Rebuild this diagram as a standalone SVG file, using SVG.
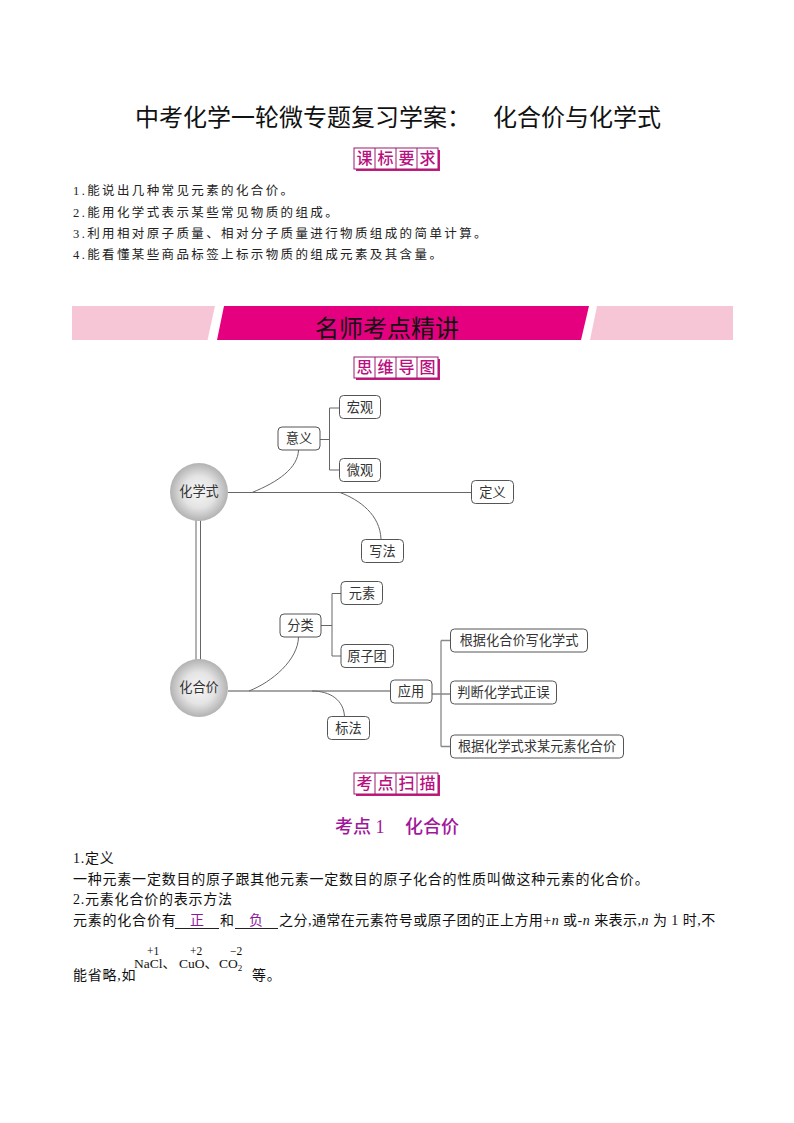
<svg xmlns="http://www.w3.org/2000/svg" width="794" height="1123" viewBox="0 0 794 1123">
<defs>
<radialGradient id="ball" cx="50%" cy="50%" r="50%"><stop offset="0" stop-color="#f6f6f6"/><stop offset="0.55" stop-color="#e4e4e4"/><stop offset="1" stop-color="#b2b2b2"/></radialGradient>
<g id="badge"><rect x="2" y="2" width="84" height="21" fill="#c9187f"/><rect x="0" y="0" width="84" height="21" fill="#fff" stroke="#9a1a6c" stroke-width="1"/><path d="M21 0V21M42 0V21M63 0V21" stroke="#9a1a6c" stroke-width="1" fill="none"/></g>
</defs>
<style>
text{font-family:"Noto Sans CJK SC","Liberation Sans",sans-serif;fill:#111}
.title{font-size:24px}
.req{font-family:"Liberation Serif","Noto Sans CJK SC",serif;font-size:12.5px;letter-spacing:2.38px;fill:#222}
.body{font-family:"Liberation Serif","Noto Sans CJK SC",serif;font-size:14px;letter-spacing:.78px}
.bt{font-size:16px;fill:#b8107f;text-anchor:middle;font-weight:500}
.box{fill:#fff;stroke:#555;stroke-width:1}
.lab{font-size:13.200px;text-anchor:middle;fill:#333}
.ball{fill:url(#ball)}
.con{fill:none;stroke:#666;stroke-width:1}
.thick{fill:none;stroke:#888;stroke-width:1.3}
.f{font-family:"Liberation Serif","Noto Sans CJK SC",serif;font-size:13.500px}
.c{font-family:"Liberation Serif",serif;font-size:11.500px}
.ans{font-size:14px;fill:#8a1a9a;text-anchor:middle}
.sec{font-family:"Liberation Serif","Noto Sans CJK SC",serif;font-size:18px;font-weight:500}
</style>
<rect width="794" height="1123" fill="#fff"/>
<text class="title" x="135" y="126">中考化学一轮微专题复习学案：</text>
<text class="title" x="493" y="126">化合价与化学式</text>
<g id="badge-kebiao"><use href="#badge" x="354" y="148"/>
<text class="bt" x="364.500" y="164">课</text><text class="bt" x="385.500" y="164">标</text><text class="bt" x="406.500" y="164">要</text><text class="bt" x="427.500" y="164">求</text></g>
<text class="req" x="73" y="195">1.能说出几种常见元素的化合价。</text>
<text class="req" x="73" y="217">2.能用化学式表示某些常见物质的组成。</text>
<text class="req" x="73" y="238">3.利用相对原子质量、相对分子质量进行物质组成的简单计算。</text>
<text class="req" x="73" y="259">4.能看懂某些商品标签上标示物质的组成元素及其含量。</text>
<g id="banner">
<polygon points="72,306 215,306 207.500,340 72,340" fill="#f7c6d6"/>
<polygon points="224,306 589,306 581,340 217,340" fill="#e5007f"/>
<polygon points="597,306 733,306 733,340 590,340" fill="#f7c6d6"/>
<text x="387" y="337" font-size="24" text-anchor="middle">名师考点精讲</text>
</g>
<g id="badge-siwei"><use href="#badge" x="354" y="357"/>
<text class="bt" x="364.500" y="373">思</text><text class="bt" x="385.500" y="373">维</text><text class="bt" x="406.500" y="373">导</text><text class="bt" x="427.500" y="373">图</text></g>
<g id="connectors">
<path class="con" d="M228 492.500H471"/>
<path class="con" d="M252 492.500C278 482 298 468 298.500 450"/>
<path class="con" d="M340 492.500C360 500 380 515 381 539"/>
<path class="con" d="M320 439.500H329.500M329.500 408V470M329.500 408H339M329.500 470H339"/>
<path class="con" d="M196 520V660M200.500 520V660"/>
<path class="thick" d="M228 691H390"/>
<path class="con" d="M249 691C272 682 298 660 298.500 637"/>
<path class="con" d="M312 691C330 691 344 700 344.500 717"/>
<path class="con" d="M321 625.500H332M332 593.500V656M332 593.500H341M332 656H341"/>
<path class="thick" d="M432 694H450M441 640.500V746.500M441 640.500H450M441 746.500H450"/>
</g>
<g id="n-huaxueshi"><circle class="ball" cx="199" cy="492" r="29"/><text class="lab" x="199" y="496">化学式</text></g>
<g id="n-huahejia"><circle class="ball" cx="199" cy="688" r="29"/><text class="lab" x="199" y="692">化合价</text></g>
<g id="n-yiyi"><rect class="box" x="278" y="427" width="42" height="23" rx="4"/><text class="lab" x="299" y="443">意义</text></g>
<g id="n-hongguan"><rect class="box" x="339.500" y="395.500" width="41" height="23" rx="4"/><text class="lab" x="360" y="412">宏观</text></g>
<g id="n-weiguan"><rect class="box" x="339.500" y="458.500" width="41" height="23" rx="4"/><text class="lab" x="360" y="475">微观</text></g>
<g id="n-dingyi"><rect class="box" x="471.500" y="480.500" width="42" height="23" rx="4"/><text class="lab" x="492.500" y="497">定义</text></g>
<g id="n-xiefa"><rect class="box" x="361.500" y="539.500" width="42" height="23" rx="4"/><text class="lab" x="382.500" y="556">写法</text></g>
<g id="n-fenlei"><rect class="box" x="280" y="614" width="41" height="23" rx="4"/><text class="lab" x="300.500" y="630">分类</text></g>
<g id="n-yuansu"><rect class="box" x="341" y="581.500" width="41.500" height="23" rx="4"/><text class="lab" x="362" y="598">元素</text></g>
<g id="n-yuanzituan"><rect class="box" x="341" y="644.500" width="52.500" height="23" rx="4"/><text class="lab" x="367" y="661">原子团</text></g>
<g id="n-yingyong"><rect class="box" x="390.500" y="680" width="41.500" height="23" rx="4"/><text class="lab" x="411" y="696">应用</text></g>
<g id="n-biaofa"><rect class="box" x="327.500" y="716.500" width="42" height="23" rx="4"/><text class="lab" x="348.500" y="733">标法</text></g>
<g id="n-xie"><rect class="box" x="450.500" y="629" width="137" height="23" rx="4"/><text class="lab" x="519" y="645">根据化合价写化学式</text></g>
<g id="n-panduan"><rect class="box" x="450.500" y="681" width="106" height="23" rx="4"/><text class="lab" x="503.500" y="697">判断化学式正误</text></g>
<g id="n-qiu"><rect class="box" x="450.500" y="735" width="173" height="23" rx="4"/><text class="lab" x="537" y="751">根据化学式求某元素化合价</text></g>
<g id="badge-kaodian"><use href="#badge" x="354" y="773"/>
<text class="bt" x="364.500" y="789">考</text><text class="bt" x="385.500" y="789">点</text><text class="bt" x="406.500" y="789">扫</text><text class="bt" x="427.500" y="789">描</text></g>
<text class="sec" x="335" y="833" style="fill:#a0189a">考点 1</text>
<text class="sec" x="405" y="833" style="fill:#a0189a">化合价</text>
<text class="body" x="73" y="863">1.定义</text>
<text class="body" x="73" y="884">一种元素一定数目的原子跟其他元素一定数目的原子化合的性质叫做这种元素的化合价。</text>
<text class="body" x="73" y="904">2.元素化合价的表示方法</text>
<text class="body" x="73" y="925">元素的化合价有</text>
<path d="M175 928.500H219M235 928.500H278" stroke="#222" stroke-width="1" fill="none"/>
<text class="ans" x="197" y="925">正</text>
<text class="body" x="220" y="925">和</text>
<text class="ans" x="256" y="925">负</text>
<text class="body" x="279" y="925" textLength="437">之分,通常在元素符号或原子团的正上方用+<tspan font-style="italic">n</tspan> 或-<tspan font-style="italic">n</tspan> 来表示,<tspan font-style="italic">n</tspan> 为 1 时,不</text>
<text class="body" x="73" y="980">能省略,如</text>
<text class="f" x="134" y="968">NaCl、</text>
<text class="f" x="179" y="968">CuO、</text>
<text class="f" x="219" y="968">CO<tspan font-size="9" dy="3">2</tspan></text>
<text class="c" x="147" y="955">+1</text>
<text class="c" x="190" y="955">+2</text>
<text class="c" x="230" y="955">−2</text>
<text class="body" x="252" y="980">等。</text>
</svg>
